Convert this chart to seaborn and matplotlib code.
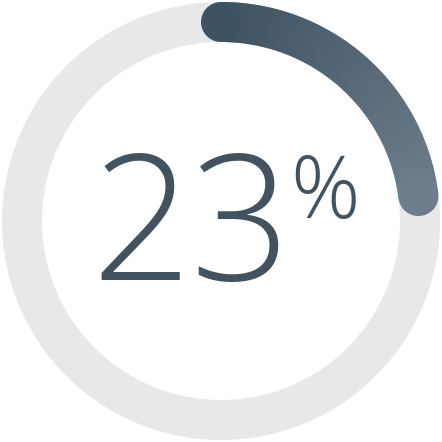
import numpy as np
import matplotlib
matplotlib.use("Agg")
import matplotlib.pyplot as plt
from matplotlib.patches import Wedge, Circle
import seaborn as sns

# progress value shown in the ring
percent = 23
value_label = "23"
unit_label = "%"

sns.set_theme(style="white")
plt.rcParams['font.family'] = ['Open Sans', 'DejaVu Sans']

fig = plt.figure(figsize=(4.42, 4.42), dpi=100)
ax = fig.add_axes([0, 0, 1, 1])
ax.set_xlim(-221, 221)
ax.set_ylim(-221, 221)
ax.set_aspect('equal')
ax.axis('off')

r = 199
w = 40

# background track
ax.add_patch(Wedge((0, 0), r + w / 2, 0, 360, width=w, color='#e8e8e8', lw=0))

# progress arc, clockwise from 12 o'clock, with a colour gradient
n = 150
sweep = 360 * percent / 100
edges = np.linspace(90, 90 - sweep, n + 1)
cols = sns.blend_palette(['#3f5262', '#6c7e8b'], n)
for i in range(n):
    lo, hi = edges[i + 1], edges[i]
    ax.add_patch(Wedge((0, 0), r + w / 2, lo - 0.3 if i < n - 1 else lo, hi,
                       width=w, facecolor=cols[i], edgecolor='none', lw=0))
# round caps
for a, c in [(edges[0], cols[0]), (edges[-1], cols[-1])]:
    t = np.deg2rad(a)
    ax.add_patch(Circle((r * np.cos(t), r * np.sin(t)), w / 2, facecolor=c, edgecolor='none', lw=0))

txt_color = '#42535f'
ax.text(-30, -59, value_label, fontsize=126, fontweight='light', color=txt_color,
        ha='center', va='baseline')
ax.text(104, 3, unit_label, fontsize=62, fontweight='light', color=txt_color,
        ha='center', va='baseline')

fig.savefig('out.png', dpi=100)
